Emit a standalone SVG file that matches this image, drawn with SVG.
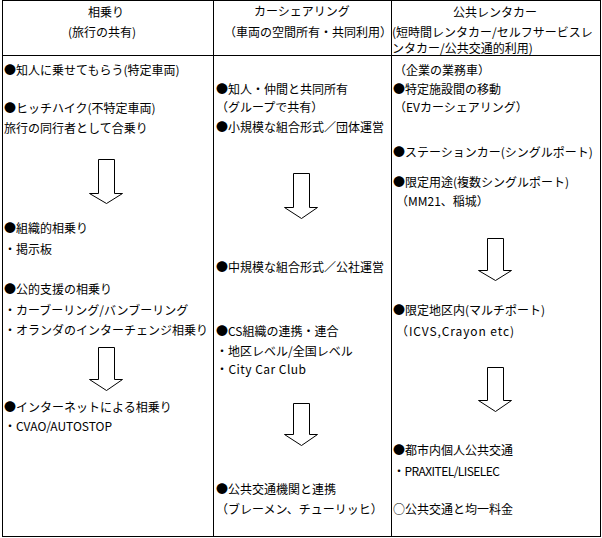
<svg xmlns="http://www.w3.org/2000/svg" width="602" height="538" viewBox="0 0 602 538">
<style>
text{font-family:"MS Gothic","Noto Sans CJK JP","Noto Sans CJK SC",sans-serif;font-size:12px;fill:#000}
.ln{stroke:#000;stroke-width:1;fill:none}
.arr{stroke:#000;stroke-width:1;fill:#fff}
</style>
<rect width="602" height="538" fill="#fff"/>
<g id="table">
<rect class="ln" x="2.5" y="0.5" width="598" height="536"/>
<line class="ln" x1="2" y1="55.5" x2="601" y2="55.5"/>
<line class="ln" x1="213.5" y1="0" x2="213.5" y2="537"/>
<line class="ln" x1="391.5" y1="0" x2="391.5" y2="537"/>
</g>
<g id="col1">
<text x="88" y="17">相乗り</text>
<text x="68" y="37">(旅行の共有)</text>
<text x="4" y="75">●知人に乗せてもらう(特定車両)</text>
<text x="4" y="113">●ヒッチハイク(不特定車両)</text>
<text x="4" y="133">旅行の同行者として合乗り</text>
<text x="4" y="233">●組織的相乗り</text>
<text x="4" y="254">・掲示板</text>
<text x="4" y="294">●公的支援の相乗り</text>
<text x="4" y="315">・カーブーリング/バンブーリング</text>
<text x="4" y="335">・オランダのインターチェンジ相乗り</text>
<text x="4" y="412">●インターネットによる相乗り</text>
<text x="4" y="431">・CVAO/AUTOSTOP</text>
</g>
<g id="col2">
<text x="254" y="16">カーシェアリング</text>
<text x="224" y="37">（車両の空間所有・共同利用）</text>
<text x="216" y="94">●知人・仲間と共同所有</text>
<text x="216" y="112">（グループで共有）</text>
<text x="216" y="132">●小規模な組合形式／団体運営</text>
<text x="216" y="272">●中規模な組合形式／公社運営</text>
<text x="216" y="336">●CS組織の連携・連合</text>
<text x="216" y="356">・地区レベル/全国レベル</text>
<text x="216" y="374" textLength="90" lengthAdjust="spacing">・City Car Club</text>
<text x="216" y="494">●公共交通機関と連携</text>
<text x="216" y="514">（ブレーメン、チューリッヒ）</text>
</g>
<g id="col3">
<text x="453" y="17">公共レンタカー</text>
<text x="392" y="37">(短時間レンタカー/セルフサービスレ</text>
<text x="392" y="53">ンタカー/公共交通的利用)</text>
<text x="394" y="75">（企業の業務車）</text>
<text x="393" y="94">●特定施設間の移動</text>
<text x="394" y="112">（EVカーシェアリング）</text>
<text x="393" y="157">●ステーションカー(シングルポート)</text>
<text x="393" y="187">●限定用途(複数シングルポート)</text>
<text x="396" y="206">（MM21、稲城）</text>
<text x="393" y="315">●限定地区内(マルチポート)</text>
<text x="396" y="336" textLength="118" lengthAdjust="spacing">（ICVS,Crayon etc)</text>
<text x="393" y="455">●都市内個人公共交通</text>
<text x="393" y="476" textLength="107" lengthAdjust="spacing">・PRAXITEL/LISELEC</text>
<text x="393" y="514">○公共交通と均一料金</text>
</g>
<g id="arrows">
<path class="arr" d="M98.5,159.5 H114.5 V193.5 H122.5 L106.5,203.5 L89.5,193.5 H98.5 Z"/>
<path class="arr" d="M98.5,347.5 H114.5 V379.5 H122.5 L106.5,390.5 L89.5,379.5 H98.5 Z"/>
<path class="arr" d="M293.5,173.5 H309.5 V207.5 H317.5 L301.5,218.5 L284.5,207.5 H293.5 Z"/>
<path class="arr" d="M293.5,403.5 H309.5 V434.5 H317.5 L301.5,445.5 L284.5,434.5 H293.5 Z"/>
<path class="arr" d="M487.5,238.5 H503.5 V270.5 H511.5 L495.5,280.5 L478.5,270.5 H487.5 Z"/>
<path class="arr" d="M487.5,367.5 H503.5 V400.5 H511.5 L495.5,411.5 L478.5,400.5 H487.5 Z"/>
</g>
</svg>
